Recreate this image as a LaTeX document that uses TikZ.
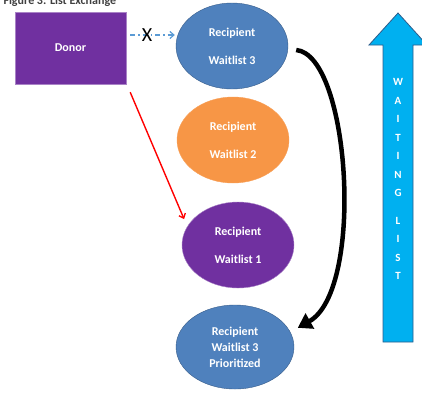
\documentclass[tikz,border=0pt]{standalone}
\usepackage{fontspec}
\setmainfont{Carlito}
\usetikzlibrary{arrows.meta, shapes.geometric}

\definecolor{donorpurple}{HTML}{7030A0}
\definecolor{wlblue}{HTML}{4F81BD}
\definecolor{wlblueline}{HTML}{385D8A}
\definecolor{wlorange}{HTML}{F79646}
\definecolor{listcyan}{HTML}{00B0F0}
\definecolor{listline}{HTML}{2E5C8A}
\definecolor{dashblue}{HTML}{5B9BD5}

\begin{document}
\begin{tikzpicture}[
  x=1pt, y=-1pt,
  donorbox/.style={rectangle, draw=donorpurple!60, fill=donorpurple, text=white,
                   minimum width=111pt, minimum height=72pt, inner sep=0pt,
                   font=\fontsize{12}{14}\selectfont\bfseries},
  wlnode/.style={ellipse, minimum width=112pt, minimum height=86pt, inner sep=0pt,
                 align=center, text=white, font=\fontsize{12}{14}\selectfont\bfseries},
  arr/.style={-{Straight Barb[length=4pt, width=7pt]}},
  bigarr/.style={-{Triangle[length=14pt, width=17pt]}, line width=4.5pt, black}
]
\useasboundingbox (0,0) rectangle (422,392);

\node[anchor=base west, text=black!75, font=\fontsize{12}{14}\selectfont\bfseries]
  (title) at (0,4.5) {Figure 3: List Exchange};

\node[donorbox] (donor) at (70.5,48) {Donor};

\node[wlnode, fill=wlblue, draw=wlblueline] (wl3) at (232,46)
  {Recipient\\[14pt]Waitlist 3};
\node[wlnode, fill=wlorange, draw=wlorange!90] (wl2) at (233,140)
  {Recipient\\[14pt]Waitlist 2};
\node[wlnode, fill=donorpurple, draw=donorpurple!60] (wl1) at (238,245)
  {Recipient\\[14pt]Waitlist 1};
\node[wlnode, fill=wlblue, draw=wlblueline, minimum width=118pt, minimum height=84pt,
      font=\fontsize{12}{16}\selectfont\bfseries] (prior) at (235,347)
  {Recipient\\Waitlist 3\\Prioritized};

% waiting list arrow
\coordinate (tip) at (398,13);
\draw[listline, fill=listcyan, line width=0.8pt]
  (tip) -- (427,45) -- (413,45) -- (413,342) -- (383,342) -- (383,45) -- (369,45) -- cycle;
\node[text=white, align=center, font=\fontsize{11}{18.5}\selectfont\bfseries] (wlist) at (398,179)
  {W\\A\\I\\T\\I\\N\\G\\[9pt]L\\I\\S\\T};

% blocked exchange
\draw[arr, dashblue, line width=1.2pt, dash pattern=on 5pt off 3pt on 1.5pt off 3pt]
  ([xshift=4pt, yshift=13pt]donor.east) -- ([xshift=-1pt, yshift=11pt]wl3.west)
  node[pos=0.38, text=black, font=\fontsize{20}{20}\selectfont] (cross) {X};

\draw[arr, red, line width=1.4pt] ([xshift=4pt, yshift=-8pt]donor.south east) -- ([xshift=-9pt]wl1.150);

\draw[bigarr] ([xshift=8pt, yshift=-4pt]wl3.east)
  .. controls (350,55) and (365,290) .. ([xshift=10pt]prior.20);

\end{tikzpicture}
\end{document}
